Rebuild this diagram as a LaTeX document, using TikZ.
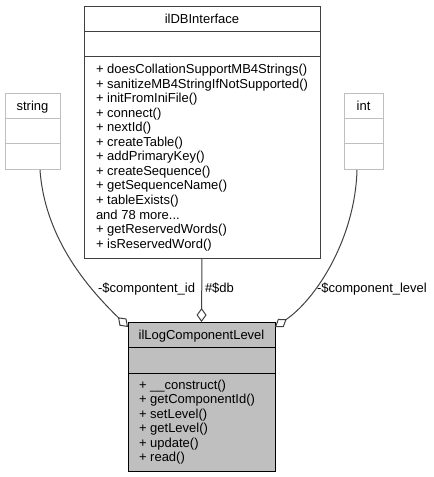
\documentclass[tikz,border=0pt]{standalone}
\usepackage{fontspec}
\setmainfont{Liberation Sans}
\usepackage{tikz}
\usetikzlibrary{calc, arrows.meta}
\usepackage{xcolor}
\definecolor{edgegray}{HTML}{404040}
\definecolor{typegray}{HTML}{BFBFBF}

\begin{document}
\begin{tikzpicture}[x=0.75pt, y=-0.75pt,
        every node/.style={font=\fontsize{9.75}{11}\selectfont, inner sep=0pt, outer sep=0pt},
        classbox/.style={draw=edgegray, line width=0.75pt, anchor=north west},
        mainbox/.style={draw=black, fill=typegray, line width=0.75pt, anchor=north west},
        typebox/.style={draw=typegray, line width=0.75pt, anchor=north west},
        title/.style={anchor=base},
        member/.style={anchor=base west},
        lbl/.style={anchor=base},
        assoc/.style={draw=edgegray, line width=0.75pt, {Diamond[open, length=10.5pt, width=7.5pt]}-}]
        % Canvas
        \useasboundingbox (0,0) rectangle (433,477);

        % ilDBInterface
        \node[classbox, minimum width=177pt, minimum height=188.25pt] (db) at (84,7) {};
        \draw[edgegray, line width=0.75pt] (db.west |- 0,32) -- (db.east |- 0,32);
        \draw[edgegray, line width=0.75pt] (db.west |- 0,57) -- (db.east |- 0,57);
        \node[title] (dbtitle) at (202,24) {ilDBInterface};
        \foreach \m [count=\i from 0] in {+ doesCollationSupportMB4Strings(), + sanitizeMB4StringIfNotSupported(),
            + initFromIniFile(), + connect(), + nextId(), + createTable(), + addPrimaryKey(),
            + createSequence(), + getSequenceName(), + tableExists(), and 78 more.{}.{}., + getReservedWords(),
            + isReservedWord()}
            \node[member] (dbm\i) at (96,{74+14.5*\i}) {\m};

        % string
        \node[typebox, minimum width=41.25pt, minimum height=57pt] (string) at (5,94) {};
        \draw[typegray, line width=0.75pt] (string.west |- 0,119) -- (string.east |- 0,119);
        \draw[typegray, line width=0.75pt] (string.west |- 0,144) -- (string.east |- 0,144);
        \node[title] (stringtitle) at (32.5,111) {string};

        % int
        \node[typebox, minimum width=29.25pt, minimum height=57pt] (int) at (344,94) {};
        \draw[typegray, line width=0.75pt] (int.west |- 0,119) -- (int.east |- 0,119);
        \draw[typegray, line width=0.75pt] (int.west |- 0,144) -- (int.east |- 0,144);
        \node[title] (inttitle) at (363.5,111) {int};

        % ilLogComponentLevel
        \node[mainbox, minimum width=110.25pt, minimum height=111.75pt] (main) at (128,322) {};
        \draw[black, line width=0.75pt] (main.west |- 0,347) -- (main.east |- 0,347);
        \draw[black, line width=0.75pt] (main.west |- 0,373) -- (main.east |- 0,373);
        \node[title] (maintitle) at (201.5,339) {ilLogComponentLevel};
        \foreach \m [count=\i from 0] in {+ \_\_construct(), + getComponentId(), + setLevel(),
            + getLevel(), + update(), + read()}
            \node[member] (mainm\i) at (139,{389+14.5*\i}) {\m};

        % Associations
        \draw[assoc] (main.north) -- (db.south);
        \draw[assoc] ($(main.north west)+(0,5)$) .. controls (90,290) and (45,240) .. ($(string.south)+(7.5,0)$);
        \draw[assoc] ($(main.north east)+(0,5)$) .. controls (315,300) and (355,240) .. ($(int.south)+(-6.5,0)$);

        % Labels
        \node[lbl, anchor=base east] (idlabel) at (195,292) {-\$compontent\_id};
        \node[lbl, anchor=base west] (dblabel) at (205,292) {\#\$db};
        \node[lbl, anchor=base west] (levellabel) at (317,292) {-\$component\_level};
\end{tikzpicture}
\end{document}
